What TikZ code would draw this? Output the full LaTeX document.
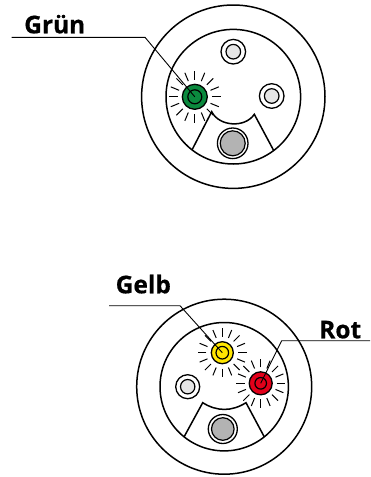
\documentclass[tikz,border=0pt]{standalone}
\usepackage{fontspec}
\setmainfont{Open Sans}[BoldFeatures={FakeBold=0.6}]

\definecolor{ledgreen}{HTML}{0B8A3E}
\definecolor{ledyellow}{HTML}{FFE600}
\definecolor{ledred}{HTML}{E2001A}
\definecolor{ledgrey}{HTML}{E6E6E6}
\definecolor{ledoff}{HTML}{B3B3B3}

\tikzset{
	shell/.style={line width=1.5pt},
	led/.style={circle,draw,line width=1.3pt,inner sep=0pt},
	ring/.style={line width=1.2pt},
	ray/.style={line width=1pt},
	pointer/.style={draw,line width=0.9pt},
	tag/.style={font=\fontsize{24.5}{28}\selectfont\bfseries,inner sep=0pt,anchor=base west}
}

\begin{document}
\begin{tikzpicture}[x=1pt,y=-1pt]
	\useasboundingbox (0,0) rectangle (370,477);

	% upper plug, green lit
	\coordinate (plugA) at (233.3,96.7);
	\draw[shell] (plugA) circle[radius=91.7pt];
	\draw[shell] (plugA) circle[radius=67.3pt];
	\draw[shell] (192.0,149.9) -- (211.7,111.7) to[bend right=60] (254.3,114.3) -- (273.7,150.5);

	\node[led,minimum size=25pt,fill=ledgreen] (green) at (194.8,96.8) {};
	\draw[ring] (green.center) circle[radius=7pt];
	\foreach \a in {0,22.5,...,337.5}
		\draw[ray] ([shift={(\a:17pt)}]green.center) -- ([shift={(\a:26pt)}]green.center);

	\node[led,minimum size=24.6pt,fill=white] (topA) at (233.3,51.7) {};
	\draw[ring,fill=ledgrey] (topA.center) circle[radius=7.3pt];
	\node[led,minimum size=24.6pt,fill=white] (rightA) at (271.7,96) {};
	\draw[ring,fill=ledgrey] (rightA.center) circle[radius=7.3pt];
	\node[led,minimum size=30.6pt,fill=white] (lowA) at (232.7,143.3) {};
	\draw[ring,fill=ledoff] (lowA.center) circle[radius=12.5pt];

	% lower plug, yellow and red lit
	\coordinate (plugB) at (224.2,386.7);
	\draw[shell] (plugB) circle[radius=87.5pt];
	\draw[shell] (plugB) circle[radius=64.2pt];
	\draw[shell] (184.1,436.8) -- (202.7,402.7) to[bend right=32] (246,402.7) -- (264.3,436.9);

	\node[led,minimum size=22pt,fill=ledyellow] (yellow) at (222.3,352.7) {};
	\draw[ring] (yellow.center) circle[radius=6.3pt];
	\foreach \a in {0,22.5,...,337.5}
		\draw[ray] ([shift={(\a:16pt)}]yellow.center) -- ([shift={(\a:24.5pt)}]yellow.center);

	\node[led,minimum size=23pt,fill=ledred] (red) at (260.7,383.3) {};
	\draw[ring] (red.center) circle[radius=5.8pt];
	\foreach \a in {0,22.5,...,337.5}
		\draw[ray] ([shift={(\a:16pt)}]red.center) -- ([shift={(\a:24.5pt)}]red.center);

	\node[led,minimum size=24pt,fill=white] (leftB) at (187.7,386.7) {};
	\draw[ring,fill=ledgrey] (leftB.center) circle[radius=7.2pt];
	\node[led,minimum size=29pt,fill=white] (lowB) at (222.8,429) {};
	\draw[ring,fill=ledoff] (lowB.center) circle[radius=11.3pt];

	% labels
	\node[tag] (gruen) at (24,33.3) {Grün};
	\coordinate (gruenL) at (11.7,37.3);
	\coordinate (gruenR) at (145,37.3);
	\draw[pointer] (gruenL) -- (gruenR) -- (green.center);

	\node[tag] (gelb) at (115.5,293.3) {Gelb};
	\coordinate (gelbL) at (109,305.7);
	\coordinate (gelbR) at (180,305.7);
	\draw[pointer] (gelbL) -- (gelbR) -- (yellow.center);

	\node[tag] (rot) at (319,338.3) {Rot};
	\coordinate (rotR) at (370,340.7);
	\coordinate (rotL) at (281.7,340.7);
	\draw[pointer] (rotR) -- (rotL) -- (red.center);
\end{tikzpicture}
\end{document}
